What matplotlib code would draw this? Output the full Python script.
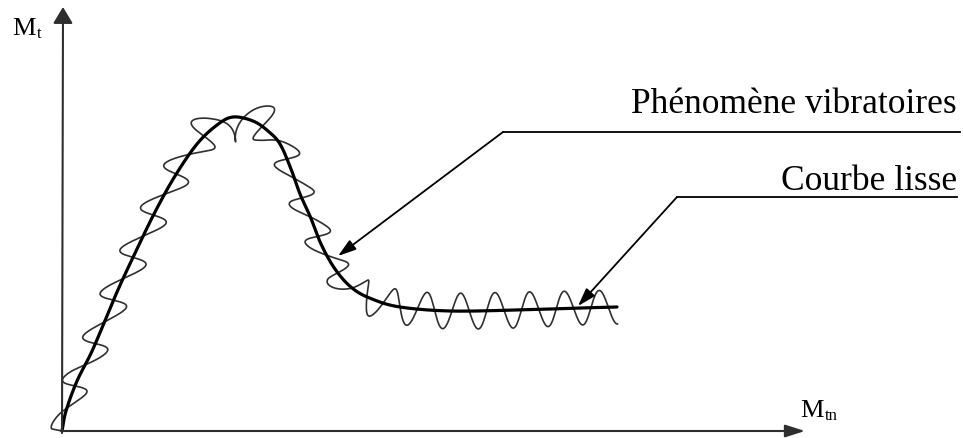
import numpy as np
import matplotlib.pyplot as plt

# smooth curve Mt = f(Mtn), in px measured from the axes origin
curve_x = [0, 4, 15, 31, 55, 75, 93, 113, 135, 155, 171, 191, 206, 218, 229,
           238, 248, 259, 273, 290, 310, 338, 388, 455, 518, 555]
curve_y = [0, 20, 50, 82, 139, 182, 219, 255, 287, 306, 314, 310, 300, 287, 262,
           237, 215, 187, 162, 143, 132, 124, 120, 121, 123, 124]
peak_idx = 10
flat_idx = 19

# vibration riding on the curve: half-width at each curve point,
# then cycles and lean on the rising / falling / flat stretch
vib_amp = [9, 13, 14, 14, 15, 15, 15, 15, 16, 20, 25, 22, 16,
           14, 14, 14, 14, 14, 14, 15, 17, 17, 18, 18, 17, 17]
wave_cycles = [7.75, 5.25, 7.75]
wave_lean = [-10, 9, 0]

label_vib = 'Phénomène vibratoires'
label_smooth = 'Courbe lisse'


def catmull_rom(px, py, n=24):
    p = np.column_stack([px, py]).astype(float)
    p = np.vstack([2 * p[0] - p[1], p, 2 * p[-1] - p[-2]])
    t = np.linspace(0, 1, n, endpoint=False)[:, None]
    out = []
    for i in range(1, len(p) - 2):
        p0, p1, p2, p3 = p[i - 1], p[i], p[i + 1], p[i + 2]
        seg = 0.5 * (2 * p1 + (-p0 + p2) * t
                     + (2 * p0 - 5 * p1 + 4 * p2 - p3) * t ** 2
                     + (-p0 + 3 * p1 - 3 * p2 + p3) * t ** 3)
        out.append(seg)
    out.append(p[-2][None])
    return np.vstack(out)


N = 24
pts = catmull_rom(curve_x, curve_y, N)
sx, sy = pts[:, 0], pts[:, 1]
s = np.concatenate([[0], np.cumsum(np.hypot(np.diff(sx), np.diff(sy)))])
S = s[-1]
s_knot = s[::N]
s_peak = s_knot[peak_idx]
s_flat = s_knot[flat_idx]

tx = np.gradient(sx, s)
ty = np.gradient(sy, s)
tn = np.hypot(tx, ty)
nx, ny = -ty / tn, tx / tn

u = np.linspace(0, S, 10000)
bounds = [0, s_peak, s_flat, S]
phi = 2 * np.pi * np.interp(u, bounds, np.concatenate([[0], np.cumsum(wave_cycles)]))
amp = np.interp(u, s_knot, vib_amp)
knots = [0, s_peak - 15, s_peak + 15, s_flat - 15, s_flat + 15, S]
lean = np.interp(u, knots, np.repeat(wave_lean, 2))

s2 = np.clip(u + lean * np.sin(phi), 0, S)
off = amp * np.sin(phi)
vx = np.interp(s2, s, sx) + off * np.interp(s2, s, nx)
vy = np.interp(s2, s, sy) + off * np.interp(s2, s, ny)

fig = plt.figure(figsize=(9.63, 4.39), dpi=100)
ax = fig.add_axes([0, 0, 1, 1])
ax.set_xlim(-62, 901)
ax.set_ylim(-7, 432)
ax.axis('off')

axis_col = '#2e2e2e'
ax.annotate('', xy=(743, 0), xytext=(0, 0),
            arrowprops=dict(arrowstyle='-|>,head_length=12,head_width=3.8',
                            mutation_scale=1, color=axis_col, lw=1.5,
                            shrinkA=0, shrinkB=0))
ax.annotate('', xy=(1, 424), xytext=(0, -2),
            arrowprops=dict(arrowstyle='-|>,head_length=10,head_width=6',
                            mutation_scale=1, color=axis_col, lw=1.5,
                            shrinkA=0, shrinkB=0))

ax.plot(vx, vy, color='#303030', lw=1.2, solid_joinstyle='round')
ax.plot(sx, sy, color='black', lw=2.3, solid_capstyle='round')

serif = 'Liberation Serif'
ax.text(-50, 397, 'M', fontsize=19, family=serif, va='baseline')
ax.text(-25, 394, 't', fontsize=12, family=serif, va='baseline')
ax.text(738, 15, 'M', fontsize=19, family=serif, va='baseline')
ax.text(763, 12, 'tn', fontsize=12, family=serif, va='baseline')

# leader lines with the two labels
lead = dict(arrowstyle='-|>,head_length=11,head_width=3.5', mutation_scale=1,
            color='black', lw=1.3, shrinkA=0, shrinkB=0)
ax.plot([441, 898], [299, 299], color='black', lw=1.3)
ax.annotate('', xy=(276, 175), xytext=(441, 299), arrowprops=lead)
ax.text(895, 319, label_vib, fontsize=25.5, family=serif, ha='right', va='baseline')

ax.plot([615, 895], [234, 234], color='black', lw=1.3)
ax.annotate('', xy=(516, 125), xytext=(615, 234), arrowprops=lead)
ax.text(895, 242, label_smooth, fontsize=25.5, family=serif, ha='right', va='baseline')

fig.savefig('out.png', dpi=100)
